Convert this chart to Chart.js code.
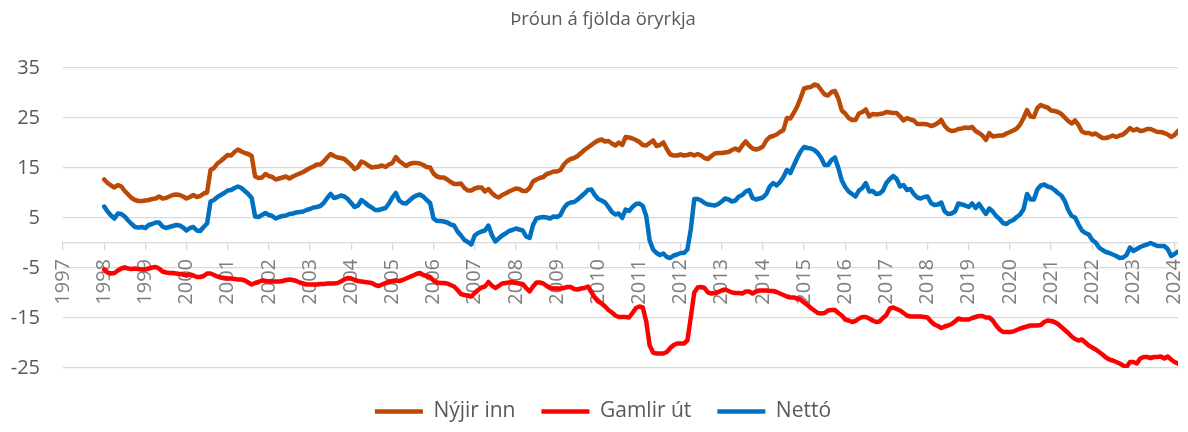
<!DOCTYPE html>
<html>
<head>
<meta charset="utf-8">
<script src="https://cdn.jsdelivr.net/npm/chart.js@4.4.1/dist/chart.umd.min.js"></script>
<style>
  html, body { margin: 0; padding: 0; background: #ffffff; }
  #wrap { width: 1188px; height: 432px; }
</style>
</head>
<body>
<div id="wrap"><canvas id="c" width="1188" height="432"></canvas></div>
<script>
// ---- Data (monthly, first value = January 1998) ----
const startYear = 1998;

const nyjirInn = [
  12.7, 12.0, 11.5, 11.1, 11.6, 11.3, 10.4, 9.7, 9.0, 8.6, 8.4, 8.4,        // 1998
  8.5, 8.6, 8.8, 8.9, 9.3, 8.9, 9.0, 9.3, 9.6, 9.7, 9.6, 9.3,              // 1999
  8.9, 9.2, 9.6, 9.2, 9.4, 9.9, 10.1, 14.6, 15.0, 15.9, 16.4, 17.0,        // 2000
  17.6, 17.5, 18.2, 18.7, 18.3, 18.0, 17.8, 17.4, 13.3, 13.0, 13.1, 13.8,  // 2001
  13.4, 13.2, 12.7, 12.9, 13.1, 13.3, 12.9, 13.3, 13.6, 13.9, 14.2, 14.6,  // 2002
  15.0, 15.3, 15.7, 15.7, 16.3, 17.1, 17.8, 17.4, 17.1, 17.0, 16.8, 16.2,  // 2003
  15.6, 14.8, 15.2, 16.3, 16.0, 15.5, 15.1, 15.2, 15.3, 15.5, 15.2, 15.7,  // 2004
  16.0, 17.2, 16.4, 15.9, 15.4, 15.8, 16.0, 16.0, 15.9, 15.6, 15.2, 15.1,  // 2005
  13.9, 13.3, 13.1, 13.1, 12.7, 12.2, 11.8, 11.8, 11.9, 11.0, 10.5, 10.5,  // 2006
  10.9, 11.1, 11.1, 10.3, 10.8, 10.0, 9.4, 9.1, 9.6, 9.9, 10.3, 10.6,      // 2007
  10.9, 10.8, 10.4, 10.4, 11.0, 12.3, 12.7, 13.0, 13.2, 13.8, 14.0, 14.3,  // 2008
  14.3, 14.6, 15.7, 16.4, 16.8, 17.0, 17.4, 18.0, 18.6, 19.1, 19.6, 20.1,  // 2009
  20.5, 20.7, 20.3, 20.4, 19.9, 19.5, 20.1, 19.6, 21.2, 21.1, 20.9, 20.6,  // 2010
  20.2, 19.6, 19.5, 20.0, 20.5, 19.4, 19.6, 20.1, 18.8, 17.7, 17.5, 17.5,  // 2011
  17.7, 17.5, 17.6, 17.8, 17.5, 17.8, 17.5, 17.0, 16.8, 17.4, 17.9, 18.0,  // 2012
  18.0, 18.1, 18.2, 18.6, 18.9, 18.5, 19.5, 20.3, 19.5, 18.9, 18.7, 18.9,  // 2013
  19.3, 20.5, 21.2, 21.4, 21.7, 22.2, 22.6, 25.0, 24.9, 26.0, 27.3, 29.0,  // 2014
  30.9, 31.1, 31.2, 31.7, 31.5, 30.6, 29.7, 29.5, 30.2, 30.4, 28.9, 26.5,  // 2015
  25.9, 25.0, 24.6, 24.6, 25.9, 26.2, 26.7, 25.3, 25.8, 25.7, 25.8, 25.9,  // 2016
  26.2, 26.1, 26.0, 26.0, 25.3, 24.5, 25.0, 24.7, 24.5, 23.8, 23.8, 23.8,  // 2017
  23.7, 23.4, 23.6, 24.0, 24.6, 23.4, 22.7, 22.4, 22.5, 22.8, 22.9, 23.1,  // 2018
  23.0, 23.2, 22.4, 22.0, 21.5, 20.6, 22.0, 21.3, 21.4, 21.5, 21.5, 21.9,  // 2019
  22.2, 22.5, 22.9, 23.7, 25.0, 26.6, 25.3, 25.2, 27.0, 27.6, 27.3, 27.1,  // 2020
  26.5, 26.4, 26.2, 25.8, 25.1, 24.4, 23.9, 24.5, 23.6, 22.3, 22.0, 22.0,  // 2021
  21.7, 21.9, 21.4, 21.0, 21.0, 21.2, 21.5, 21.2, 21.5, 21.7, 22.3, 23.0,  // 2022
  22.5, 22.8, 22.4, 22.5, 22.8, 22.8, 22.5, 22.2, 22.2, 22.0, 21.7, 21.2,  // 2023
  21.6, 22.4                                                               // 2024
];

const gamlirUt = [
  -5.3, -5.9, -6.1, -6.0, -5.5, -5.1, -4.9, -5.1, -5.2, -5.1, -5.2, -5.3,
  -5.3, -5.1, -4.9, -4.8, -5.1, -5.7, -5.9, -6.0, -6.0, -6.1, -6.2, -6.3,
  -6.5, -6.3, -6.5, -6.8, -6.8, -6.6, -6.1, -6.1, -6.4, -6.7, -6.9, -7.0,
  -7.1, -7.1, -7.2, -7.3, -7.3, -7.5, -7.9, -8.3, -8.0, -7.8, -7.5, -7.6,
  -7.7, -7.7, -7.7, -7.7, -7.6, -7.4, -7.3, -7.4, -7.6, -7.9, -8.1, -8.3,
  -8.3, -8.3, -8.3, -8.2, -8.2, -8.1, -8.1, -8.1, -8.0, -7.7, -7.3, -7.0,
  -7.1, -7.4, -7.6, -7.7, -7.8, -7.9, -8.0, -8.4, -8.6, -8.3, -8.0, -7.8,
  -7.6, -7.5, -7.6, -7.4, -7.1, -6.8, -6.5, -6.2, -6.0, -6.4, -6.6, -6.8,
  -7.5, -7.9, -8.0, -8.0, -8.1, -8.4, -8.7, -9.4, -10.2, -10.4, -10.5, -10.7,
  -10.0, -9.4, -8.9, -8.7, -7.8, -8.5, -9.0, -8.6, -8.1, -8.0, -7.9, -7.8,
  -8.0, -8.1, -8.2, -9.0, -9.7, -8.7, -7.9, -7.9, -8.1, -8.6, -9.0, -9.1,
  -9.1, -9.1, -9.0, -8.8, -8.8, -9.2, -9.3, -9.1, -9.0, -8.7, -9.8, -10.9,
  -11.7, -12.1, -12.7, -13.4, -13.9, -14.5, -14.8, -14.8, -14.8, -14.9, -14.0, -13.0,
  -12.7, -12.9, -15.7, -20.5, -21.9, -22.1, -22.1, -22.1, -21.8, -21.0, -20.4, -20.1,
  -20.1, -20.1, -19.5, -14.8, -9.9, -8.9, -8.8, -9.0, -9.9, -10.1, -10.0, -9.8,
  -9.5, -9.3, -9.6, -9.9, -10.0, -10.0, -10.1, -9.7, -9.7, -10.1, -9.7, -9.5,
  -9.5, -9.5, -9.6, -9.6, -9.8, -10.1, -10.4, -10.7, -10.9, -10.9, -11.1, -11.3,
  -11.9, -12.4, -13.0, -13.5, -14.0, -14.1, -14.0, -13.5, -13.4, -13.4, -14.0, -14.5,
  -15.3, -15.5, -15.8, -15.6, -15.1, -14.8, -14.8, -15.1, -15.5, -15.8, -15.7, -15.0,
  -14.4, -13.1, -12.9, -13.2, -13.5, -14.0, -14.5, -14.7, -14.7, -14.7, -14.7, -14.8,
  -14.9, -15.7, -16.3, -16.6, -17.0, -16.7, -16.5, -16.2, -15.7, -15.1, -15.3, -15.3,
  -15.3, -15.0, -14.8, -14.6, -14.6, -14.9, -14.9, -15.5, -16.5, -17.3, -17.8, -17.8,
  -17.8, -17.7, -17.4, -17.1, -16.9, -16.7, -16.5, -16.5, -16.5, -16.4, -15.8, -15.5,
  -15.6, -15.8, -16.2, -16.8, -17.4, -18.0, -18.7, -19.2, -19.5, -19.3, -19.9, -20.5,
  -20.9, -21.3, -21.8, -22.3, -22.9, -23.3, -23.5, -23.8, -24.1, -24.5, -24.8, -23.8,
  -23.8, -24.1, -23.1, -22.8, -22.8, -23.0, -22.8, -22.8, -22.7, -23.1, -22.7, -23.3,
  -23.8, -24.1
];

const netto = [
  7.3, 6.3, 5.5, 4.9, 5.9, 5.8, 5.3, 4.5, 3.8, 3.2, 3.1, 3.2,
  3.0, 3.6, 3.8, 4.1, 4.1, 3.3, 3.0, 3.2, 3.4, 3.6, 3.5, 3.1,
  2.5, 3.0, 3.2, 2.5, 2.4, 3.2, 3.9, 8.3, 8.6, 9.2, 9.6, 10.0,
  10.5, 10.6, 11.0, 11.3, 11.0, 10.4, 9.8, 9.0, 5.3, 5.2, 5.6, 6.0,
  5.6, 5.4, 4.9, 5.2, 5.4, 5.5, 5.8, 5.9, 6.1, 6.2, 6.3, 6.6,
  6.8, 7.1, 7.2, 7.4, 8.0, 9.0, 9.8, 9.0, 9.2, 9.5, 9.3, 8.8,
  8.0, 7.2, 7.5, 8.6, 8.1, 7.5, 7.1, 6.6, 6.6, 6.8, 7.0, 7.9,
  9.1, 10.0, 8.5, 8.0, 7.9, 8.5, 9.1, 9.5, 9.7, 9.3, 8.6, 8.0,
  4.9, 4.4, 4.4, 4.3, 4.1, 3.7, 3.5, 2.3, 1.5, 0.6, 0.2, -0.3,
  1.5, 2.0, 2.3, 2.5, 3.5, 1.6, 0.3, 0.9, 1.5, 1.9, 2.4, 2.6,
  2.9, 2.7, 2.5, 1.3, 1.0, 3.6, 4.9, 5.1, 5.2, 5.1, 4.9, 5.3,
  5.2, 5.6, 7.0, 7.8, 8.1, 8.2, 8.7, 9.3, 9.9, 10.6, 10.7, 9.6,
  8.8, 8.5, 8.1, 7.2, 6.2, 5.7, 5.9, 5.0, 6.7, 6.4, 7.2, 7.8,
  7.9, 7.4, 5.4, 0.5, -1.3, -2.0, -2.4, -2.1, -2.8, -3.0, -2.5, -2.3,
  -2.0, -2.0, -1.3, 2.8, 8.8, 8.8, 8.5, 8.0, 7.7, 7.6, 7.5, 7.8,
  8.3, 8.9, 8.7, 8.3, 8.5, 9.3, 9.6, 10.3, 10.6, 9.0, 8.7, 8.9,
  9.1, 9.8, 11.3, 12.0, 11.5, 12.2, 13.2, 14.6, 14.0, 15.5, 17.0, 18.3,
  19.2, 19.0, 18.9, 18.6, 18.0, 17.0, 15.6, 15.6, 16.6, 17.1, 15.0, 12.5,
  11.2, 10.3, 9.8, 9.3, 10.5, 11.0, 12.0, 10.3, 10.4, 9.8, 9.9, 10.5,
  12.0, 12.8, 13.4, 12.8, 11.3, 11.6, 10.6, 10.8, 9.8, 9.1, 8.9, 9.2,
  9.3, 8.0, 7.6, 7.7, 8.1, 6.3, 5.8, 5.9, 6.3, 7.9, 7.7, 7.5,
  7.2, 7.9, 7.0, 7.8, 6.8, 5.8, 6.9, 6.3, 5.4, 4.8, 4.0, 3.8,
  4.3, 4.6, 5.2, 5.7, 6.8, 9.8, 8.7, 8.7, 10.7, 11.5, 11.7, 11.3,
  11.1, 10.6, 10.0, 9.5, 8.4, 6.6, 5.4, 5.1, 3.7, 2.5, 2.0, 1.7,
  0.6, 0.1, -0.9, -1.4, -1.8, -2.0, -2.3, -2.6, -3.0, -2.9, -2.4, -0.9,
  -1.6, -1.2, -0.8, -0.5, -0.3, 0.0, -0.3, -0.6, -0.6, -0.6, -1.2, -2.6,
  -2.2, -1.7
];

const yearTicks = [1997, 1998, 1999, 2000, 2001, 2002, 2003, 2004, 2005, 2006, 2007,
  2008, 2009, 2010, 2011, 2012, 2013, 2014, 2015, 2016, 2017, 2018, 2019, 2020,
  2021, 2022, 2023, 2024];
const yTicks = [-25, -15, -5, 5, 15, 25, 35];

const seriesNames = ['Nýjir inn', 'Gamlir út', 'Nettó'];
const seriesColors = ['#BA4A06', '#FF0000', '#0070C0'];
const titleText = 'Þróun á fjölda öryrkja';

// ---- Build chart ----
function toPoints(arr) {
  return arr.map((v, i) => ({ x: startYear + i / 12, y: v }));
}

Chart.defaults.font.family = "'Open Sans', sans-serif";
Chart.defaults.color = '#595959';

const seriesData = [nyjirInn, gamlirUt, netto];
const datasets = seriesData.map((arr, k) => ({
  label: seriesNames[k],
  data: toPoints(arr),
  borderColor: seriesColors[k],
  backgroundColor: seriesColors[k],
  borderWidth: 4.5,
  pointRadius: 0,
  pointHoverRadius: 0,
  pointStyle: 'line',
  tension: 0,
  borderCapStyle: 'round',
  borderJoinStyle: 'round',
  fill: false
}));

// Let the y-axis labels extend left of the (narrow) y-axis box without being clipped.
const widenYLabelArea = {
  id: 'widenYLabelArea',
  afterLayout(chart) { chart.scales.y.left = 0; }
};

new Chart(document.getElementById('c'), {
  type: 'line',
  data: { datasets },
  plugins: [widenYLabelArea],
  options: {
    responsive: false,
    animation: false,
    devicePixelRatio: 1,
    layout: { padding: { left: 28, right: 10, top: 0, bottom: 0 } },
    plugins: {
      title: {
        display: true,
        text: titleText,
        color: '#595959',
        font: { size: 18.5, weight: 'normal' },
        padding: { top: 9, bottom: 36.8 }
      },
      subtitle: {
        display: true,
        text: '',
        position: 'bottom',
        weight: 500,
        font: { size: 5, lineHeight: 1.4 },
        padding: 0
      },
      legend: {
        position: 'bottom',
        labels: {
          usePointStyle: true,
          pointStyleWidth: 48,
          boxHeight: 21,
          padding: 26,
          color: '#595959',
          font: { size: 21 }
        }
      },
      tooltip: { enabled: false }
    },
    scales: {
      x: {
        type: 'linear',
        position: { y: 0 },
        min: yearTicks[0],
        max: startYear + (nyjirInn.length - 1) / 12,
        afterBuildTicks: (s) => { s.ticks = yearTicks.map(v => ({ value: v })); },
        afterFit: (s) => { s.paddingLeft = 0; s.paddingRight = 0; },
        grid: {
          drawOnChartArea: false,
          drawTicks: true,
          tickLength: 7,
          tickColor: '#D9D9D9',
          lineWidth: 1.3
        },
        border: { display: true, color: '#D9D9D9', width: 1.3 },
        ticks: {
          autoSkip: false,
          minRotation: 90,
          maxRotation: 90,
          padding: 9,
          color: '#7F7F7F',
          font: { size: 20 },
          callback: (v) => String(v)
        }
      },
      y: {
        type: 'linear',
        min: -25,
        max: 35,
        afterBuildTicks: (s) => { s.ticks = yTicks.map(v => ({ value: v })); },
        afterFit: (s) => { s.width = 35; s.paddingTop = 0; s.paddingBottom = 0; },
        grid: {
          drawTicks: false,
          color: '#D9D9D9',
          lineWidth: 1.3
        },
        border: { display: false },
        ticks: {
          padding: 23,
          color: '#595959',
          font: { size: 20 },
          callback: (v) => String(v)
        }
      }
    }
  }
});
</script>
</body>
</html>
